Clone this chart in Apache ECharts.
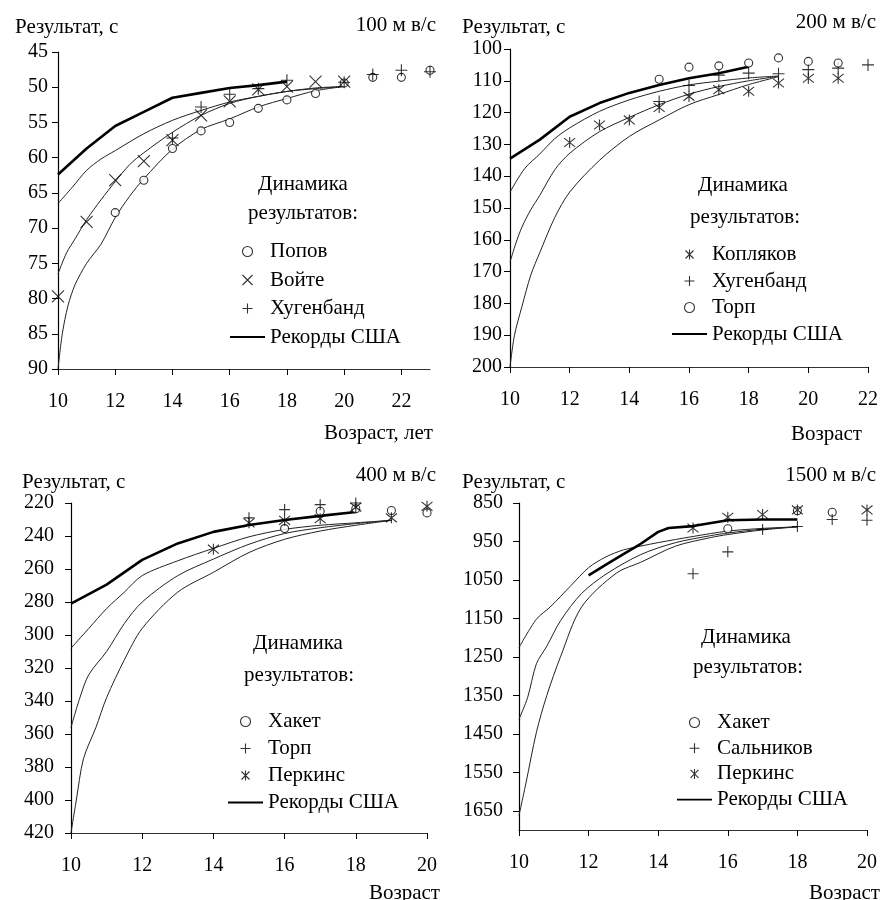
<!DOCTYPE html>
<html>
<head>
<meta charset="utf-8">
<script src="https://cdn.jsdelivr.net/npm/echarts@6/dist/echarts.min.js"></script>
<style>
  html, body { margin: 0; padding: 0; background: #fff; }
  #main { width: 880px; height: 900px; }
</style>
</head>
<body>
<div id="main"></div>
<script>
// ---- 100 м в/с ----
const popov100 = [[12, 67.8], [13, 63.2], [14, 58.7], [15, 56.2], [16, 55.0], [17, 53.0], [18, 51.8], [19, 50.9], [20, 49.4], [21, 48.6], [22, 48.6], [23, 47.6]];
const voite100 = [[10, 79.7], [11, 69.1], [12, 63.2], [13, 60.5], [14, 57.5], [15, 54.0], [16, 52.0], [17, 50.3], [18, 49.9], [19, 49.2], [20, 49.2]];
const hugenband100 = [[14, 57.2], [15, 52.8], [16, 51.0], [17, 50.2], [18, 49.0], [20, 49.3], [21, 48.2], [22, 47.6], [23, 47.8]];
const records100 = [[10, 62.4], [11, 58.7], [12, 55.5], [13, 53.5], [14, 51.5], [15, 50.8], [16, 50.1], [17, 49.7], [18, 49.2]];
const fitA100 = [[10, 66.5], [10.5, 64.2], [11, 61.8], [11.5, 60.2], [12, 59.0], [13, 56.6], [14, 54.7], [15, 53.3], [16, 52.1], [17, 51.3], [18, 50.6], [19, 50.2], [20, 49.9]];
const fitB100 = [[10, 76.5], [10.3, 73.5], [10.6, 71.5], [11, 68.8], [11.5, 66.0], [12, 63.4], [12.5, 61.0], [13, 59.3], [14, 56.4], [15, 54.0], [16, 52.3], [17, 51.3], [18, 50.6], [19, 50.1], [20, 49.9]];
const fitC100 = [[10, 90], [10.15, 85], [10.35, 81], [10.6, 78], [11, 75], [11.5, 72.3], [12, 68.5], [12.5, 65.5], [13, 63.0], [14, 58.8], [15, 56.0], [16, 54.5], [17, 52.8], [18, 51.6], [19, 50.5], [20, 49.9]];

// ---- 200 м в/с ----
const koplyakov200 = [[12, 129.4], [13, 123.9], [14, 122.3], [15, 118.4], [16, 114.9], [17, 112.8], [18, 113.3], [19, 110.7], [20, 109.2], [21, 109.2]];
const hugenband200 = [[15, 116.5], [16, 111.5], [17, 108.2], [18, 107.6], [19, 107.8], [20, 106.5], [21, 106.0], [22, 105.0]];
const torp200 = [[15, 109.5], [16, 105.7], [17, 105.3], [18, 104.4], [19, 102.8], [20, 103.9], [21, 104.4]];
const records200 = [[10, 134.5], [11, 128.5], [12, 121.3], [13, 117.0], [14, 113.8], [15, 111.3], [16, 109.2], [17, 107.6], [18, 105.6]];
const fitA200 = [[10, 145], [10.5, 137.5], [11, 133], [11.5, 128.2], [12, 124.8], [13, 119.6], [14, 116], [15, 113.3], [16, 111.3], [17, 110.1], [18, 109.1], [19, 108.5]];
const fitB200 = [[10, 167], [10.2, 161], [10.4, 156], [10.7, 150.5], [11, 146], [11.5, 138], [12, 132.8], [13, 126], [14, 121.5], [15, 117.5], [16, 114.2], [17, 111.8], [18, 110], [19, 108.6]];
const fitC200 = [[10, 200], [10.15, 190], [10.4, 181], [10.7, 171], [11, 164], [11.5, 153], [12, 145], [13, 135], [14, 127.5], [15, 122.3], [16, 117.5], [17, 114.3], [18, 111.2], [19, 108.7]];

// ---- 400 м в/с ----
const haket400 = [[16, 235.5], [17, 225], [18, 223.5], [19, 224.5], [20, 226]];
const torp400 = [[15, 229], [16, 224], [17, 221], [18, 220], [19, 219.5], [20, 219.5]];
const perkins400 = [[14, 248], [15, 232], [16, 230.5], [17, 229.5], [18, 222.5], [19, 229], [20, 222]];
const records400 = [[10, 281], [11, 269.5], [12, 254.5], [13, 244.5], [14, 237.5], [15, 233.3], [16, 230.3], [17, 227.8], [18, 225.5]];
const fitA400 = [[10, 308], [10.5, 296], [11, 284], [11.5, 274], [12, 264], [13, 255], [14, 247.5], [15, 240.5], [16, 236], [17, 233.5], [18, 232], [19, 230.5]];
const fitB400 = [[10, 356], [10.25, 338], [10.5, 324], [11, 310], [11.5, 293], [12, 280], [13, 264], [14, 254], [15, 245], [16, 238.5], [17, 235], [18, 232.5], [19, 230.5]];
const fitC400 = [[10, 420], [10.15, 400], [10.35, 375], [10.7, 356], [11, 338], [11.5, 315], [12, 296], [13, 274], [14, 262], [15, 250], [16, 242], [17, 237], [18, 233.5], [19, 230.5]];

// ---- 1500 м в/с ----
const haket1500 = [[16, 917], [18, 870], [19, 874]];
const salnikov1500 = [[15, 1034], [16, 977], [17, 919], [18, 911], [19, 893], [20, 895]];
const perkins1500 = [[15, 915], [16, 887], [17, 880], [18, 868], [20, 868]];
const records1500 = [[12, 1038], [12.5, 1010], [13, 983], [13.5, 956], [14, 925], [14.3, 915], [15, 910], [16, 895], [17, 893], [18, 893]];
const fitA1500 = [[10, 1226], [10.5, 1152], [10.9, 1120], [11.5, 1064], [12, 1018], [12.5, 990], [13, 972], [13.5, 962], [14, 953], [15, 937], [16, 923], [17, 916], [18, 912]];
const fitB1500 = [[10, 1412], [10.25, 1355], [10.5, 1268], [10.8, 1222], [11.2, 1155], [11.8, 1085], [12.5, 1035], [13.5, 984], [14.5, 953], [15.5, 935], [16, 928], [17, 918], [18, 912]];
const fitC1500 = [[10, 1662], [10.2, 1578], [10.5, 1446], [10.8, 1350], [11.2, 1248], [11.8, 1120], [12.8, 1032], [13.5, 1004], [14.5, 962], [15.5, 940], [16, 932], [17, 920], [18, 912]];

const SERIF = '"Liberation Serif", "Times New Roman", serif';
const SYM_X = 'path://M0,0L10,10M10,0L0,10';
const SYM_PLUS = 'path://M5,0L5,10M0,5L10,5';
const SYM_AST = 'path://M1,1L9,9M9,1L1,9M5,0L5,10';
const SYM_LINE = 'path://M0,0L35,0L35,1.8L0,1.8Z';
const REC = 'Рекорды США';

const chart = echarts.init(document.getElementById('main'));

// панели: сетка, оси
const panels = [
  { grid: [58, 52, 372, 317], xMax: 23, yMin: 45, yMax: 90, yStep: 5, yMargin: 10 },
  { grid: [510, 49, 358, 318], xMax: 22, yMin: 100, yMax: 200, yStep: 10, yMargin: 8 },
  { grid: [71, 503, 356, 330], xMax: 20, yMin: 220, yMax: 420, yStep: 20, yMargin: 17 },
  { grid: [519, 503, 348, 327], xMax: 20, yMin: 850, yMax: 1700, yStep: 100, yMargin: 16 }
];

const grids = panels.map(p => ({
  left: p.grid[0], top: p.grid[1], width: p.grid[2], height: p.grid[3],
  outerBoundsMode: 'none'
}));

const xAxes = panels.map((p, i) => ({
  type: 'value', gridIndex: i, min: 10, max: p.xMax, interval: 2,
  axisLine: { show: true, onZero: false, lineStyle: { color: '#333', width: 1 } },
  axisTick: { show: true, length: 6, lineStyle: { color: '#000' } },
  axisLabel: { margin: 23, color: '#000', fontFamily: SERIF, fontSize: 20, showMaxLabel: p.xMax % 2 === 0 },
  splitLine: { show: false }
}));

const yAxes = panels.map((p, i) => ({
  type: 'value', gridIndex: i, inverse: true, min: p.yMin, max: p.yMax, interval: p.yStep,
  axisLine: { show: true, onZero: false, lineStyle: { color: '#000', width: 1.2 } },
  axisTick: { show: true, length: 6, lineStyle: { color: '#000' } },
  axisLabel: {
    margin: p.yMargin, color: '#000', fontFamily: SERIF, fontSize: 20,
    showMaxLabel: i !== 3, formatter: v => String(v)
  },
  splitLine: { show: false }
}));

function scatter(name, data, symbol, size, i) {
  return {
    type: 'scatter', name, data, symbol, symbolSize: size,
    xAxisIndex: i, yAxisIndex: i, z: 5, silent: true,
    itemStyle: { color: '#fff', borderColor: '#000', borderWidth: 1.1 }
  };
}
function fit(data, i) {
  return {
    type: 'line', data, xAxisIndex: i, yAxisIndex: i, z: 2, silent: true,
    smooth: 0.3, symbol: 'none', color: '#222',
    lineStyle: { color: '#222', width: 1 }
  };
}
function records(data, i) {
  return {
    type: 'line', name: REC, data, xAxisIndex: i, yAxisIndex: i, z: 3, silent: true,
    symbol: 'none', color: '#000', lineStyle: { color: '#000', width: 2.6 }
  };
}

const series = [
  fit(fitA100, 0), fit(fitB100, 0), fit(fitC100, 0), records(records100, 0),
  scatter('Попов', popov100, 'circle', 8, 0),
  scatter('Войте', voite100, SYM_X, 12, 0),
  scatter('Хугенбанд', hugenband100, SYM_PLUS, 12, 0),

  fit(fitA200, 1), fit(fitB200, 1), fit(fitC200, 1), records(records200, 1),
  scatter('Копляков', koplyakov200, SYM_AST, 11, 1),
  scatter('Хугенбанд', hugenband200, SYM_PLUS, 12, 1),
  scatter('Торп', torp200, 'circle', 8, 1),

  fit(fitA400, 2), fit(fitB400, 2), fit(fitC400, 2), records(records400, 2),
  scatter('Хакет', haket400, 'circle', 8, 2),
  scatter('Торп', torp400, SYM_PLUS, 11, 2),
  scatter('Перкинс', perkins400, SYM_AST, 11, 2),

  fit(fitA1500, 3), fit(fitB1500, 3), fit(fitC1500, 3), records(records1500, 3),
  scatter('Хакет', haket1500, 'circle', 8, 3),
  scatter('Сальников', salnikov1500, SYM_PLUS, 11, 3),
  scatter('Перкинс', perkins1500, SYM_AST, 11, 3)
];

function legend(items, left, top, gap) {
  return {
    show: true, orient: 'vertical', left, top, padding: 0, itemGap: gap,
    itemWidth: 35, itemHeight: 10, symbolKeepAspect: true, selectedMode: false,
    data: items.map(it => ({ name: it[0], icon: it[1] })),
    textStyle: { fontFamily: SERIF, fontSize: 21, color: '#000', lineHeight: 21 },
    itemStyle: { borderWidth: 1.1 }
  };
}

const legends = [
  legend([['Попов', 'circle'], ['Войте', SYM_X], ['Хугенбанд', SYM_PLUS], [REC, SYM_LINE]], 230, 241, 7.5),
  legend([['Копляков', SYM_AST], ['Хугенбанд', SYM_PLUS], ['Торп', 'circle'], [REC, SYM_LINE]], 672, 244, 5.5),
  legend([['Хакет', 'circle'], ['Торп', SYM_PLUS], ['Перкинс', SYM_AST], [REC, SYM_LINE]], 228, 711, 6),
  legend([['Хакет', 'circle'], ['Сальников', SYM_PLUS], ['Перкинс', SYM_AST], [REC, SYM_LINE]], 677, 712, 4.7)
];

function txt(x, y, s, align) {
  return {
    type: 'text', x, y, silent: true,
    style: { text: s, fontFamily: SERIF, fontSize: 21, fill: '#000', align, verticalAlign: 'middle' }
  };
}

const labels = [
  txt(15, 27, 'Результат, с', 'left'), txt(436, 25, '100 м в/с', 'right'),
  txt(433, 433, 'Возраст, лет', 'right'),
  txt(303, 184, 'Динамика', 'center'), txt(303, 213, 'результатов:', 'center'),

  txt(462, 27, 'Результат, с', 'left'), txt(876, 22, '200 м в/с', 'right'),
  txt(862, 434, 'Возраст', 'right'),
  txt(743, 185, 'Динамика', 'center'), txt(745, 217, 'результатов:', 'center'),

  txt(22, 482, 'Результат, с', 'left'), txt(436, 475, '400 м в/с', 'right'),
  txt(440, 893, 'Возраст', 'right'),
  txt(298, 643, 'Динамика', 'center'), txt(299, 675, 'результатов:', 'center'),

  txt(462, 482, 'Результат, с', 'left'), txt(876, 475, '1500 м в/с', 'right'),
  txt(880, 893, 'Возраст', 'right'),
  txt(746, 637, 'Динамика', 'center'), txt(748, 667, 'результатов:', 'center')
];

chart.setOption({
  animation: false,
  backgroundColor: '#fff',
  grid: grids,
  xAxis: xAxes,
  yAxis: yAxes,
  legend: legends,
  graphic: labels,
  series
});
</script>
</body>
</html>
